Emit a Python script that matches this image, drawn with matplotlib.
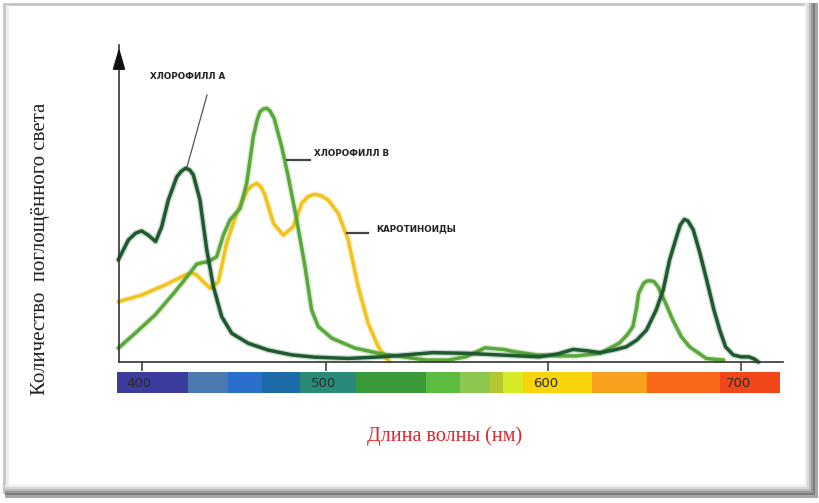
import numpy as np
import matplotlib
matplotlib.use("Agg")
import matplotlib.pyplot as plt
from matplotlib.lines import Line2D
import matplotlib.transforms as mtransforms

# ---------------- data (wavelength nm, relative absorbance) ----------------
chl_a_wl = [387.1, 392.6, 396.5, 399.8, 403.4, 407.4, 410.7, 414.3, 418.9, 421.5, 423.8, 426.0,
            427.9, 431.5, 435.2, 438.8, 443.3, 448.8, 457.8, 468.6, 481.4, 494.0, 510.0, 525.1,
            535.6, 548, 563, 578, 596, 605, 613, 620, 627, 634, 640.5, 646, 651, 656, 659.7,
            663, 666.6, 668.5, 670.6, 672.5, 675.3, 678.5, 682.2, 686, 689, 692, 696, 700, 704,
            707, 709]
chl_a_val = [31.7, 37.9, 40.0, 40.7, 39.4, 37.4, 42.0, 50.3, 57.5, 59.3, 60.2, 59.6, 58.1, 50.3,
             34.8, 23.4, 14.1, 8.9, 5.8, 3.7, 2.2, 1.5, 1.1, 1.6, 2.2, 2.9, 2.7, 2.2, 1.6, 2.5,
             3.9, 3.5, 2.9, 3.7, 4.7, 6.8, 9.9, 16.1, 22.4, 31.7, 38.9, 42.5, 44.3, 43.8, 41.0,
             34.3, 25.5, 16.1, 9.9, 4.7, 2.2, 1.6, 1.6, 0.9, 0.0]

chl_b_wl = [387.1, 396.2, 407.1, 417.9, 425.2, 429.7, 433.0, 436.0, 440.6, 444.2, 447.8, 453.3,
            456.9, 460.5, 462.5, 464.1, 466.0, 467.8, 469.5, 471.8, 475.9, 479.5, 484.1, 488.6,
            492.2, 495.8, 502.6, 513.1, 525.1, 535.6, 545, 555, 563, 571.6, 580, 585, 595,
            605.7, 615, 627, 637, 641, 644, 646, 647, 649.5, 650.8, 652, 653.5, 655, 657, 661,
            664.7, 669, 673.4, 682, 691]
chl_b_val = [4.3, 8.9, 14.6, 21.8, 27.0, 30.4, 30.9, 31.1, 32.7, 39.4, 44.1, 47.7, 55.5, 70.0,
             75.0, 77.7, 78.6, 78.8, 78.0, 75.7, 66.9, 57.5, 44.1, 29.6, 16.1, 11.0, 7.4, 4.3,
             2.5, 1.5, 0.6, 0.6, 1.6, 4.4, 3.9, 3.2, 2.2, 1.9, 1.9, 2.7, 5.9, 8.4, 11.0, 17.2,
             21.4, 24.4, 25.0, 25.2, 25.2, 24.9, 23.4, 18.2, 13.0, 7.9, 4.7, 1.1, 0.6]

car_wl = [387.1, 399.8, 412.5, 421.6, 424.5, 427.0, 429.5, 431.5, 437.0, 441.5, 446.0, 451.5,
          456.9, 459.5, 462.3, 464.5, 466.8, 471.4, 476.8, 482.2, 486.8, 490.5, 494.0, 497.5,
          501.0, 505.5, 510.0, 514.5, 519.0, 523.5, 526.6, 528.4]
car_val = [18.7, 20.8, 23.9, 26.5, 27.3, 27.7, 27.1, 26.0, 22.9, 24.9, 36.9, 46.2, 52.9, 54.7,
           55.5, 54.5, 51.9, 43.1, 39.4, 42.0, 49.3, 51.5, 52.1, 51.6, 50.3, 46.2, 37.9, 23.4,
           12.0, 4.8, 1.6, 0.3]

tick_values = [400, 500, 600, 700]
tick_labels = ["400", "500", "600", "700"]

# spectrum bar segments (edges in nm) and colours
spectrum_edges = [386.4, 425, 446.7, 465.2, 486, 513.5, 545, 560.4, 573.9, 579.7, 588.7,
                  622.8, 651.3, 689, 720]
spectrum_colors = ["#3b3c9e", "#4c79b0", "#2a6fcc", "#1c6aa8", "#2a8a78", "#3a9a3a", "#5cbc40",
                   "#8cc850", "#b4c630", "#d6ea28", "#f7d40c", "#f9a11e", "#f86818", "#f0461a"]

labels = ["ХЛОРОФИЛЛ А", "ХЛОРОФИЛЛ В", "КАРОТИНОИДЫ"]
ylabel = "Количество  поглощённого света"
xlabel = "Длина волны (нм)"

# ---------------- non-linear wavelength axis (as in the original picture) ----------------
_WL = [300, 400, 500, 600, 700, 800]
_PX = [-42, 142, 326, 548, 741, 934]


def fwd(x):
    return np.interp(x, _WL, _PX)


def inv(p):
    return np.interp(p, _PX, _WL)


W, H = 819, 503
fig = plt.figure(figsize=(W / 100, H / 100), dpi=100)
fig.patch.set_facecolor("white")


def fx(px):
    return px / W


def fy(py):
    return 1 - py / H


# main axes: left spine at x=119, bottom at y=362, top at y=45
ax = fig.add_axes([fx(119), fy(362), fx(783) - fx(119), fy(45) - fy(362)])
ax.set_xscale("function", functions=(fwd, inv))
ax.set_xlim(inv(119), inv(783))
ax.set_ylim(0, (362 - 45) / 3.22)
ax.patch.set_alpha(0)
for s in ["top", "right"]:
    ax.spines[s].set_visible(False)
for s in ["left", "bottom"]:
    ax.spines[s].set_color("#333333")
    ax.spines[s].set_linewidth(1.2)
ax.set_yticks([])
ax.set_xticks(tick_values)
ax.set_xticklabels([])
ax.tick_params(axis="x", direction="out", length=6.5, width=1.2, color="#444444")

# arrow head on y axis
ax.annotate("", xy=(0, 1.0), xytext=(0, 0.955), xycoords="axes fraction",
            arrowprops=dict(arrowstyle="-|>,head_length=1.2,head_width=0.35", color="#111111",
                            lw=1.2, mutation_scale=11), annotation_clip=False)

# curves (soft halo + line)
series = [(car_wl, car_val, "#f2c31c"), (chl_b_wl, chl_b_val, "#5aa83a"),
          (chl_a_wl, chl_a_val, "#1d5a2d")]
for wl, val, col in series:
    ax.plot(wl, val, color=col, lw=4.4, alpha=0.22, solid_capstyle="round",
            solid_joinstyle="round", clip_on=False)
    ax.plot(wl, val, color=col, lw=2.5, solid_capstyle="round", solid_joinstyle="round",
            clip_on=False)

# labels and pointer lines (figure pixel positions)
lab_kw = dict(fontsize=6.3, fontweight="bold", color="#222222", va="center",
              family="DejaVu Sans")
fig.text(fx(150), fy(76.5), labels[0], ha="left", **lab_kw)
fig.text(fx(314), fy(154), labels[1], ha="left", **lab_kw)
fig.text(fx(376), fy(229), labels[2], ha="left", **lab_kw)
fig.add_artist(Line2D([fx(207), fx(187)], [fy(95), fy(167)], color="#555555", lw=0.9,
                      transform=fig.transFigure))
fig.add_artist(Line2D([fx(287), fx(310)], [fy(160), fy(160)], color="#444444", lw=1.6,
                      transform=fig.transFigure))
fig.add_artist(Line2D([fx(347), fx(368)], [fy(233), fy(233)], color="#444444", lw=1.6,
                      transform=fig.transFigure))

# spectrum bar
axb = fig.add_axes([fx(117), fy(393), fx(780) - fx(117), fy(372) - fy(393)])
axb.set_xscale("function", functions=(fwd, inv))
axb.set_xlim(spectrum_edges[0], spectrum_edges[-1])
axb.set_ylim(0, 1)
for i, col in enumerate(spectrum_colors):
    axb.axvspan(spectrum_edges[i], spectrum_edges[i + 1], color=col, lw=0)
axb.axis("off")
trans = mtransforms.blended_transform_factory(axb.transData, axb.transAxes)
off = mtransforms.ScaledTranslation(-3 / 100, 0, fig.dpi_scale_trans)
for v, t in zip(tick_values, tick_labels):
    axb.text(v, 0.47, t, transform=trans + off, ha="center", va="center", fontsize=9.5,
             color="#2a2a2a", family="DejaVu Sans")

# axis titles
fig.text(fx(41), fy(249), ylabel, rotation=90, ha="center", va="center", fontsize=15,
         family="Liberation Serif", color="#222222")
fig.text(fx(445), fy(436), xlabel, ha="center", va="center", fontsize=14.5,
         family="Liberation Serif", color="#e8212b")

# frame with shadow
frame_lines = [
    ([fx(4), fx(4)], [fy(4), fy(492)], "#c4c4c4", 2.0),
    ([fx(4), fx(810)], [fy(4), fy(4)], "#c4c4c4", 2.0),
    ([fx(7), fx(7)], [fy(6), fy(490)], "#ececec", 2.0),
]
for xs, ys, c, lw in frame_lines:
    fig.add_artist(Line2D(xs, ys, color=c, lw=lw, transform=fig.transFigure))
shadow = [(0, "#eeeeee"), (2, "#d8d8d8"), (4, "#bdbdbd"), (6, "#9a9a9a"), (8, "#7c7c7c"),
          (10, "#a8a8a8")]
for d, c in shadow:
    fig.add_artist(Line2D([fx(6), fx(806 + d)], [fy(486 + d), fy(486 + d)], color=c, lw=2.2,
                          transform=fig.transFigure))
    fig.add_artist(Line2D([fx(806 + d), fx(806 + d)], [fy(4), fy(486 + d)], color=c, lw=2.2,
                          transform=fig.transFigure))

fig.savefig("out.png", dpi=100, facecolor="white")
